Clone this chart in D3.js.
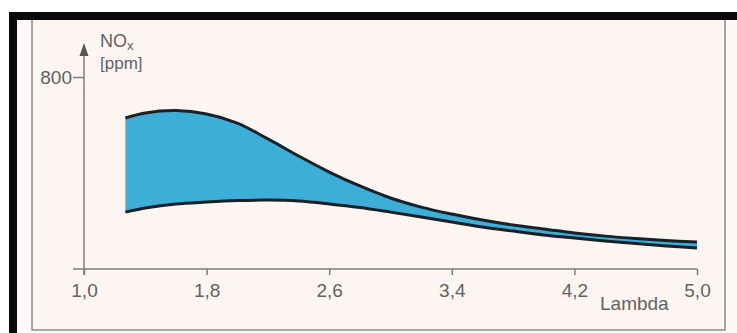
<!DOCTYPE html>
<html>
<head>
<meta charset="utf-8">
<script src="https://cdn.jsdelivr.net/npm/d3@7"></script>
<style>
  html, body { margin: 0; padding: 0; background: #ffffff; }
  svg { display: block; }
  text { font-family: "Liberation Sans", Arial, sans-serif; fill: #626262; }
</style>
</head>
<body>
<svg id="chart" width="737" height="333"></svg>
<script>
// ---- data ----
const lambda = [1.27, 1.4, 1.6, 1.8, 2.0, 2.2, 2.4, 2.6, 2.8, 3.0, 3.2, 3.4, 3.6, 3.8, 4.0, 4.2, 4.4, 4.6, 4.8, 5.0];
const noxUpper = [629, 650, 660, 646, 608, 542, 471, 404, 346, 296, 258, 229, 204, 183, 167, 150, 137, 127, 119, 112];
const noxLower = [237, 254, 271, 279, 285, 287, 283, 271, 256, 237, 217, 196, 175, 158, 142, 129, 117, 106, 96, 87];
const xTicks = [1.0, 1.8, 2.6, 3.4, 4.2, 5.0];
const xTickLabels = ["1,0", "1,8", "2,6", "3,4", "4,2", "5,0"];
const yTicks = [800];
const yTickLabels = ["800"];

const svg = d3.select("#chart");

// frame
svg.append("rect").attr("x", 17).attr("y", 20).attr("width", 720).attr("height", 313).attr("fill", "#fdf9f7");
svg.append("rect").attr("x", 32).attr("y", 19).attr("width", 693).attr("height", 311)
  .attr("fill", "#fcf5f2").attr("stroke", "#8a8a8a").attr("stroke-width", 1.5);
svg.append("rect").attr("x", 9).attr("y", 12).attr("width", 728).attr("height", 8).attr("fill", "#0a0a0a");
svg.append("rect").attr("x", 9).attr("y", 12).attr("width", 8).attr("height", 321).attr("fill", "#0a0a0a");

const x = d3.scaleLinear().domain([1, 5]).range([84, 697]);
const y = d3.scaleLinear().domain([0, 800]).range([269, 77]);

const data = lambda.map((l, i) => ({ l, u: noxUpper[i], d: noxLower[i] }));
const curve = d3.curveCatmullRom.alpha(0.5);

// area
const area = d3.area().x(d => x(d.l)).y0(d => y(d.d)).y1(d => y(d.u)).curve(curve);
svg.append("path").datum(data).attr("d", area).attr("fill", "#3caed8");

const lineU = d3.line().x(d => x(d.l)).y(d => y(d.u)).curve(curve);
const lineD = d3.line().x(d => x(d.l)).y(d => y(d.d)).curve(curve);
svg.append("path").datum(data).attr("d", lineU).attr("fill", "none").attr("stroke", "#1a2126").attr("stroke-width", 3);
svg.append("path").datum(data).attr("d", lineD).attr("fill", "none").attr("stroke", "#1a2126").attr("stroke-width", 3);

// x axis
const axisColor = "#7d7d7d";
svg.append("line").attr("x1", 73).attr("x2", x(5)).attr("y1", y(0)).attr("y2", y(0))
  .attr("stroke", axisColor).attr("stroke-width", 1.5);
const gx = svg.append("g").attr("transform", `translate(0,${y(0)})`)
  .call(d3.axisBottom(x).tickValues(xTicks).tickSize(6).tickPadding(9)
    .tickFormat((d, i) => xTickLabels[i]));
gx.select(".domain").remove();
gx.selectAll(".tick line").attr("stroke", axisColor).attr("stroke-width", 1.5);
gx.selectAll(".tick text").style("font-size", "19px").style("fill", "#626262").attr("font-family", null);

// y axis
svg.append("line").attr("x1", x(1)).attr("x2", x(1)).attr("y1", y(0) + 6).attr("y2", 52)
  .attr("stroke", axisColor).attr("stroke-width", 1.5);
svg.append("path")
  .attr("d", d3.line()([[x(1), 43], [x(1) - 4.5, 56], [x(1) + 4.5, 56]]) + "Z")
  .attr("fill", "#555");
const gy = svg.append("g").attr("transform", `translate(${x(1)},0)`)
  .call(d3.axisLeft(y).tickValues(yTicks).tickSize(11).tickPadding(1)
    .tickFormat((d, i) => yTickLabels[i]));
gy.select(".domain").remove();
gy.selectAll(".tick line").attr("stroke", axisColor).attr("stroke-width", 1.5);
gy.selectAll(".tick text").style("font-size", "19px").style("fill", "#626262").attr("font-family", null);

// axis titles
const t = svg.append("text").attr("x", 100).attr("y", 47).style("font-size", "18px");
t.append("tspan").text("NO");
t.append("tspan").text("x").attr("dy", 3).style("font-size", "13px");
svg.append("text").attr("x", 100).attr("y", 69).style("font-size", "17px").text("[ppm]");
svg.append("text").attr("x", 600).attr("y", 310).style("font-size", "19px").text("Lambda");
</script>
</body>
</html>
